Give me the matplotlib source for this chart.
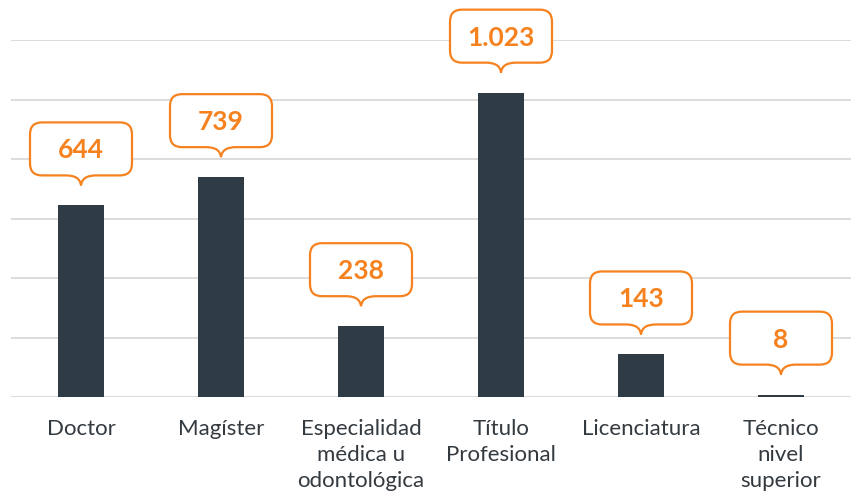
import matplotlib
matplotlib.use("Agg")
import matplotlib.pyplot as plt
from matplotlib.path import Path
from matplotlib.patches import PathPatch
from matplotlib.transforms import IdentityTransform

categories = ["Doctor", "Magíster", "Especialidad\nmédica u\nodontológica",
              "Título\nProfesional", "Licenciatura", "Técnico\nnivel\nsuperior"]
values = [644, 739, 238, 1023, 143, 8]
value_labels = ["644", "739", "238", "1.023", "143", "8"]

BAR_COLOR = "#2f3b45"
ORANGE = "#f5821f"
GRID = "#d9d9d9"
TEXT = "#333a40"

W_PX, H_PX = 851, 495
fig = plt.figure(figsize=(W_PX / 100, H_PX / 100), dpi=100)
ax = fig.add_axes([11 / W_PX, (H_PX - 397) / H_PX, 840 / W_PX, 357 / H_PX])

x = list(range(len(categories)))
ax.bar(x, values, width=0.33, color=BAR_COLOR, zorder=3)
ax.set_xlim(-0.5, len(categories) - 0.5)
ax.set_ylim(0, 1200)
ax.set_yticks(range(0, 1201, 200))
ax.yaxis.grid(True, color=GRID, linewidth=1.3)
ax.set_axisbelow(True)
for s in ax.spines.values():
    s.set_visible(False)
ax.tick_params(axis="y", length=0, labelleft=False)
ax.tick_params(axis="x", length=0, pad=16)
ax.set_xticks(x)
ax.set_xticklabels(categories, fontsize=16, color=TEXT, family="Lato")
for t in ax.get_xticklabels():
    t.set_linespacing(1.36)


def callout_path(cx, b, W=102, H=53, r=12, pw=16, ph=10):
    L, R, T = cx - W / 2, cx + W / 2, b + H
    verts = [(L + r, b), (cx - pw, b),
             (cx - pw * 0.35, b), (cx - 1, b - ph * 0.3), (cx, b - ph),
             (cx + 1, b - ph * 0.3), (cx + pw * 0.35, b), (cx + pw, b),
             (R - r, b), (R, b), (R, b + r),
             (R, T - r), (R, T), (R - r, T),
             (L + r, T), (L, T), (L, T - r),
             (L, b + r), (L, b), (L + r, b), (L + r, b)]
    codes = [Path.MOVETO, Path.LINETO,
             Path.CURVE4, Path.CURVE4, Path.CURVE4,
             Path.CURVE4, Path.CURVE4, Path.CURVE4,
             Path.LINETO, Path.CURVE3, Path.CURVE3,
             Path.LINETO, Path.CURVE3, Path.CURVE3,
             Path.LINETO, Path.CURVE3, Path.CURVE3,
             Path.LINETO, Path.CURVE3, Path.CURVE3, Path.CLOSEPOLY]
    return Path(verts, codes)


for xi, v, lab in zip(x, values, value_labels):
    cx, cy = ax.transData.transform((xi, v))
    b = cy + 30
    patch = PathPatch(callout_path(cx, b), transform=IdentityTransform(),
                      facecolor="white", edgecolor=ORANGE, linewidth=1.6,
                      clip_on=False, zorder=5)
    ax.add_artist(patch)
    ax.annotate(lab, xy=(xi, v), xytext=(0, 47), textcoords="offset pixels",
                ha="center", va="baseline", fontsize=19, fontweight="bold",
                color=ORANGE, family="Lato", zorder=6, annotation_clip=False)

fig.savefig("out.png", dpi=100)
